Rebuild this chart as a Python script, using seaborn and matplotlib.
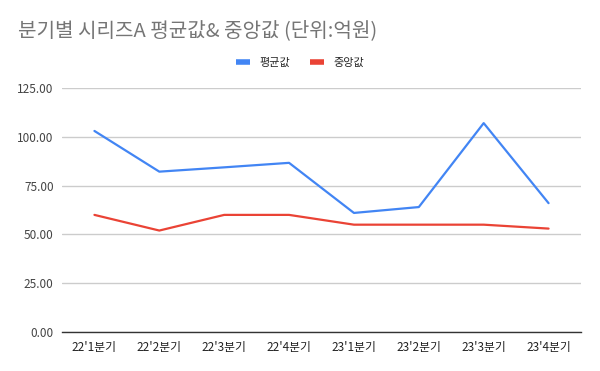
import matplotlib
matplotlib.use("Agg")
import matplotlib.pyplot as plt
import seaborn as sns
import pandas as pd
from matplotlib.lines import Line2D

quarters = ["22'1분기", "22'2분기", "22'3분기", "22'4분기", "23'1분기", "23'2분기", "23'3분기", "23'4분기"]
mean_vals = [102.9, 82.1, 84.3, 86.6, 61.0, 64.0, 106.9, 66.0]
median_vals = [60, 52, 60, 60, 55, 55, 55, 53]
series_names = ["평균값", "중앙값"]
colors = ["#4285F4", "#EA4335"]
yticks = [0, 25, 50, 75, 100, 125]

df = pd.DataFrame({
    "quarter": quarters * 2,
    "value": mean_vals + median_vals,
    "series": [series_names[0]] * len(quarters) + [series_names[1]] * len(quarters),
})

sns.set_theme(style="white")
plt.rcParams['font.family'] = ['Noto Sans CJK KR', 'DejaVu Sans']

fig = plt.figure(figsize=(6, 3.71), dpi=100)
ax = fig.add_axes([62/600, 1-332.3/371, (581-62)/600, (332.3-87.7)/371])

sns.lineplot(data=df, x="quarter", y="value", hue="series", palette=colors,
             linewidth=1.6, ax=ax, legend=False, sort=False)

ax.set_xlim(-0.5, len(quarters) - 0.5)
ax.set_ylim(0, 125)
ax.set_yticks(yticks)
ax.set_yticklabels([f"{v:.2f}" for v in yticks], fontsize=8.5, color="#444444")
ax.set_xticks(range(len(quarters)))
ax.set_xticklabels(quarters, fontsize=8.5, color="#222222")
ax.tick_params(axis="both", length=0, pad=6)
ax.set_xlabel("")
ax.set_ylabel("")
ax.grid(axis="y", color="#cccccc", linewidth=1)
ax.set_axisbelow(True)
for s in ["top", "right", "left"]:
    ax.spines[s].set_visible(False)
ax.spines["bottom"].set_color("#333333")
ax.spines["bottom"].set_linewidth(1)

fig.text(18/600, 1-31/371, "분기별 시리즈A 평균값& 중앙값 (단위:억원)", fontsize=14.5,
         color="#757575", ha="left", va="center")

handles = [Line2D([0], [0], color=c, linewidth=4, solid_capstyle="butt") for c in colors]
fig.legend(handles, series_names, loc="center", bbox_to_anchor=(300/600, 1-63/371),
           ncol=2, frameon=False, fontsize=8, handlelength=1.3, handletextpad=0.8,
           columnspacing=1.8)

fig.savefig("out.png", dpi=100, facecolor="white")
